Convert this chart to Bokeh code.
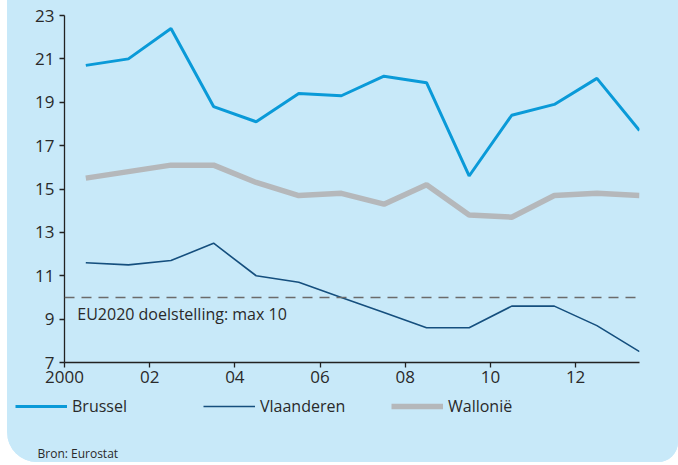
from bokeh.plotting import figure
from bokeh.layouts import column
from bokeh.models import Span, Label, Legend, LegendItem, FixedTicker
from bokeh.embed import file_html
from bokeh.resources import INLINE

years = [2000.5, 2001.5, 2002.5, 2003.5, 2004.5, 2005.5, 2006.5,
         2007.5, 2008.5, 2009.5, 2010.5, 2011.5, 2012.5, 2013.5]
brussel = [20.7, 21.0, 22.4, 18.8, 18.1, 19.4, 19.3, 20.2, 19.9, 15.6, 18.4, 18.9, 20.1, 17.7]
vlaanderen = [11.6, 11.5, 11.7, 12.5, 11.0, 10.7, 10.0, 9.3, 8.6, 8.6, 9.6, 9.6, 8.7, 7.5]
wallonie = [15.5, 15.8, 16.1, 16.1, 15.3, 14.7, 14.8, 14.3, 15.2, 13.8, 13.7, 14.7, 14.8, 14.7]
x_ticks = [2000, 2002, 2004, 2006, 2008, 2010, 2012]
x_tick_labels = ["2000", "02", "04", "06", "08", "10", "12"]
y_ticks = [7, 9, 11, 13, 15, 17, 19, 21, 23]
target = 10

BG = "#c8e9f9"
FONT = "Open Sans"
TXT = "#2a2a2a"
C_B, C_V, C_W = "#0a9ad8", "#154f7e", "#b5b8bb"
W_B, W_V, W_W = 3, 1.6, 5.5

p = figure(width=671, height=396, x_range=(2000, 2013.5), y_range=(7, 23),
           output_backend="svg", toolbar_location=None,
           min_border_left=57, min_border_right=39, min_border_top=15, min_border_bottom=34)
p.frame_align = False
p.background_fill_color = BG
p.border_fill_color = BG
p.outline_line_color = None
p.xgrid.visible = False
p.ygrid.visible = False

for ax in (p.xaxis[0], p.yaxis[0]):
    ax.axis_line_color = "#222222"
    ax.axis_line_width = 1.3
    ax.major_tick_line_color = "#222222"
    ax.major_tick_line_width = 1.3
    ax.major_tick_in = 0
    ax.major_tick_out = 5
    ax.minor_tick_line_color = None
    ax.major_label_text_font = FONT
    ax.major_label_text_font_size = "17px"
    ax.major_label_text_color = TXT

p.xaxis.ticker = FixedTicker(ticks=x_ticks)
p.xaxis.major_label_overrides = {t: l for t, l in zip(x_ticks, x_tick_labels)}
p.xaxis.major_label_standoff = 3
p.yaxis.ticker = FixedTicker(ticks=y_ticks)
p.yaxis.major_label_standoff = 5

p.add_layout(Span(location=target, dimension="width", line_color="#6b6b6b",
                  line_width=1.4, line_dash="10 7"))

p.line(years, wallonie, line_color=C_W, line_width=W_W)
p.line(years, vlaanderen, line_color=C_V, line_width=W_V)
p.line(years, brussel, line_color=C_B, line_width=W_B)

p.add_layout(Label(x=2000.3, y=9.25, text="EU2020 doelstelling: max 10",
                   text_font=FONT, text_font_size="16px", text_color=TXT,
                   text_baseline="middle"))

# legend + source strip
q = figure(width=671, height=66, x_range=(0, 1), y_range=(0, 1),
           output_backend="svg", toolbar_location=None,
           x_axis_location=None, y_axis_location=None,
           min_border_left=0, min_border_right=0, min_border_top=0, min_border_bottom=0)
q.frame_align = False
q.background_fill_color = BG
q.border_fill_color = BG
q.outline_line_color = None
q.xgrid.visible = False
q.ygrid.visible = False

# proxy renderers (kept outside the visible range) that carry the legend styles
lb = q.line([-2, -1], [-2, -2], line_color=C_B, line_width=W_B)
lv = q.line([-2, -1], [-2, -2], line_color=C_V, line_width=W_V)
lw = q.line([-2, -1], [-2, -2], line_color=C_W, line_width=W_W)

legend = Legend(items=[LegendItem(label="Brussel", renderers=[lb]),
                       LegendItem(label="Vlaanderen", renderers=[lv]),
                       LegendItem(label="Wallonië", renderers=[lw])],
                location=(8, 45), orientation="horizontal",
                glyph_width=52, glyph_height=20, label_standoff=5, label_width=131,
                spacing=0, padding=0, margin=0, border_line_color=None,
                background_fill_alpha=0, label_text_font=FONT,
                label_text_font_size="16px", label_text_color=TXT)
q.add_layout(legend, "center")

q.add_layout(Label(x=30, y=9, x_units="screen", y_units="screen", text="Bron: Eurostat",
                   text_font=FONT, text_font_size="12px", text_color=TXT,
                   text_baseline="middle"))

layout = column(p, q, spacing=0,
                styles={"border-bottom-left-radius": "30px", "border-bottom-right-radius": "20px",
                        "overflow": "hidden", "margin-left": "7px", "background-color": BG})

open("out.html", "w").write(file_html(layout, INLINE))
